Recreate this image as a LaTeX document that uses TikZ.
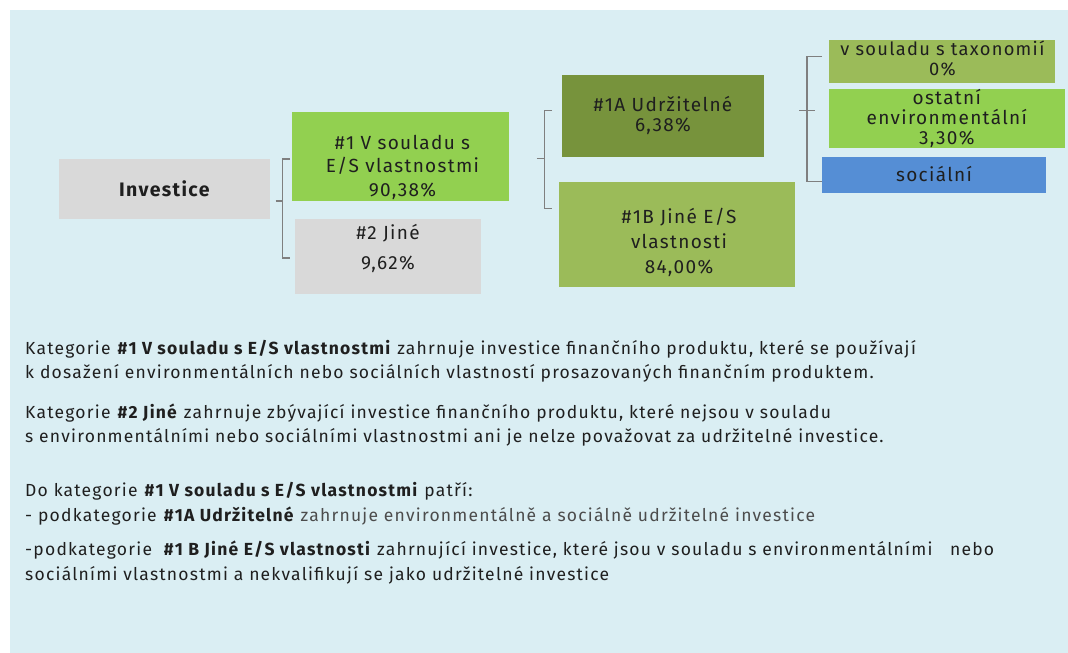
\documentclass[tikz,border=0pt]{standalone}
\usepackage{fontspec}
\setmainfont{Fira Sans}[LetterSpace=7]
\definecolor{bgaqua}{HTML}{DAEEF3}
\definecolor{boxgrey}{HTML}{D9D9D9}
\definecolor{limegreen}{HTML}{92D050}
\definecolor{olivegreen}{HTML}{77933C}
\definecolor{sagegreen}{HTML}{9BBB59}
\definecolor{socblue}{HTML}{558ED5}
\definecolor{linegrey}{HTML}{7F7F7F}
\definecolor{inkgrey}{HTML}{1F1F1F}
\begin{document}
\begin{tikzpicture}[x=1pt,y=-1pt,
  box/.style={rectangle, inner sep=0pt, outer sep=0pt},
  lbl/.style={align=center, text=inkgrey, inner sep=0pt},
  conn/.style={draw=linegrey, line width=1.4pt},
  para/.style={anchor=base west, text=inkgrey, inner sep=0pt, font=\fontsize{17.5}{20}\selectfont}]
\useasboundingbox (0,0) rectangle (1068,653);
\fill[white] (0,0) rectangle (1068,653);
\fill[bgaqua] (10,10) rectangle (1068,653);
% boxes
\node[box, fill=boxgrey, minimum width=210.7pt, minimum height=59.7pt] (inv) at (164.25,188.85){};
\node[box, fill=limegreen, minimum width=216.6pt, minimum height=89pt] (es) at (400.3,156.5){};
\node[box, fill=boxgrey, minimum width=185.7pt, minimum height=74.7pt] (jine) at (387.85,256.35){};
\node[box, fill=olivegreen, minimum width=201.6pt, minimum height=81.7pt] (udr) at (662.8,115.85){};
\node[box, fill=sagegreen, minimum width=235.7pt, minimum height=104.7pt] (jes) at (676.85,234.35){};
\node[box, fill=sagegreen, minimum width=225.8pt, minimum height=43.3pt] (tax) at (941.9,61.65){};
\node[box, fill=limegreen, minimum width=235.6pt, minimum height=58.7pt] (env) at (946.8,118.35){};
\node[box, fill=socblue, minimum width=223.7pt, minimum height=36.3pt] (soc) at (933.85,175.15){};
% box texts
\node[lbl, font=\fontsize{19.5}{20}\selectfont\bfseries] (inv-t) at (164.3,188.5){Investice};
\node[lbl, font=\fontsize{19}{23.5}\selectfont] (es-t) at (402.5,167){\#1 V souladu s\\E/S vlastnostmi\\90,38\%};
\node[lbl, font=\fontsize{19}{30}\selectfont] (jine-t) at (388,248){\#2 Jiné\\9,62\%};
\node[lbl, font=\fontsize{19}{20}\selectfont] (udr-t) at (663,115){\#1A Udržitelné\\6,38\%};
\node[lbl, font=\fontsize{19}{25}\selectfont] (jes-t) at (679,242){\#1B Jiné E/S\\vlastnosti\\84,00\%};
\node[lbl, font=\fontsize{18.3}{20}\selectfont] (tax-t) at (942.5,58){v souladu s taxonomií\\0\%};
\node[lbl, font=\fontsize{19}{20}\selectfont] (env-t) at (946.8,118){ostatní\\environmentální\\3,30\%};
\node[lbl, font=\fontsize{19}{20}\selectfont] (soc-t) at (934,174){sociální};
% brackets
\draw[conn] ([xshift=6pt]inv.east |- es.south) -- ([xshift=-9.6pt]es.south west);
\draw[conn] ([xshift=-2pt,yshift=-2.5pt]es.west) -| ([xshift=-12.6pt,yshift=-1.6pt]jine.west) -- ([xshift=-5pt,yshift=-1.6pt]jine.west);
\draw[conn] ([xshift=28.2pt,yshift=-2.2pt]es.east) -- ([xshift=-17.5pt,yshift=-2.2pt]es.east -| udr.west);
\draw[conn] ([xshift=-10pt,yshift=5.4pt]udr.west) -| ([xshift=-14.5pt,yshift=-26.5pt]jes.north west) -- ([xshift=-7pt,yshift=-26.5pt]jes.north west);
\draw[conn] ([xshift=35.7pt,yshift=5.2pt]udr.east) -- ([xshift=51.1pt,yshift=5.2pt]udr.east);
\draw[conn] ([xshift=-7pt,yshift=5pt]tax.west) -| ([xshift=-15pt,yshift=-6.5pt]soc.west) -- ([yshift=-6.5pt]soc.west);
% notes
\node[para] (p1a) at (25,354){Kategorie \textbf{\#1 V souladu s E/S vlastnostmi} zahrnuje investice finančního produktu, které se používají};
\node[para] (p1b) at (25,378){k dosažení environmentálních nebo sociálních vlastností prosazovaných finančním produktem.};
\node[para] (p2a) at (25,418){Kategorie \textbf{\#2 Jiné} zahrnuje zbývající investice finančního produktu, které nejsou v souladu};
\node[para] (p2b) at (25,442){s environmentálními nebo sociálními vlastnostmi ani je nelze považovat za udržitelné investice.};
\node[para] (p3a) at (25,496){Do kategorie \textbf{\#1 V souladu s E/S vlastnostmi} patří:};
\node[para] (p3b) at (25,521){- podkategorie \textbf{\#1A Udržitelné} \textcolor{black!70}{zahrnuje environmentálně a sociálně udržitelné investice}};
\node[para] (p4a) at (25,555){-podkategorie \ \textbf{\#1 B Jiné E/S vlastnosti} zahrnující investice, které jsou v souladu s environmentálními \ \ nebo};
\node[para] (p4b) at (25,580){sociálními vlastnostmi a nekvalifikují se jako udržitelné investice};
\end{tikzpicture}
\end{document}
